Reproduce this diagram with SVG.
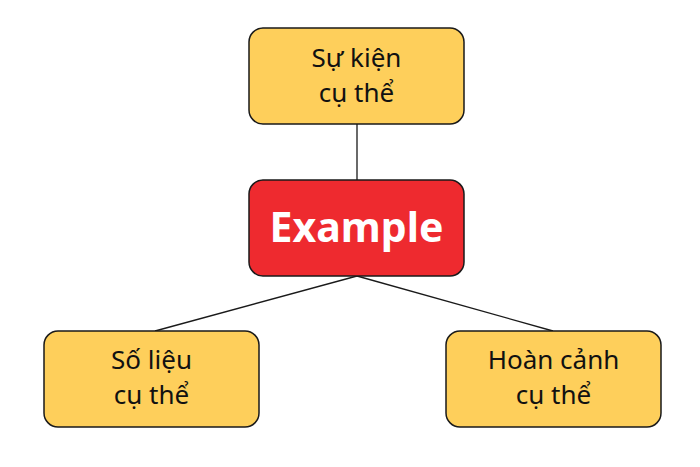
<svg xmlns="http://www.w3.org/2000/svg" width="700" height="467" viewBox="0 0 700 467">
<style>
.box{fill:#FECF5B;stroke:#1a1a1a;stroke-width:1.5}
.main{fill:#EE2A2F;stroke:#1a1a1a;stroke-width:1.5}
.t{font-family:"Noto Sans","Open Sans",sans-serif;font-size:26px;fill:#111;text-anchor:middle}
.m{font-family:"Noto Sans","Open Sans",sans-serif;font-size:41px;font-weight:bold;fill:#fff;text-anchor:middle}
.c{stroke:#1a1a1a;stroke-width:1.3;fill:none}
</style>
<rect width="700" height="467" fill="#fff"/>
<g id="connectors">
<line class="c" x1="357" y1="124" x2="357" y2="180"/>
<path class="c" d="M357 276 L155 331"/>
<path class="c" d="M357 276 L553 331"/>
</g>
<g id="top">
<rect class="box" x="249" y="28" width="215" height="96" rx="14"/>
<text class="t" x="356.5" y="67">Sự kiện</text>
<text class="t" x="356.5" y="102">cụ thể</text>
</g>
<g id="example">
<rect class="main" x="249" y="180" width="215" height="96" rx="14"/>
<text class="m" x="356.5" y="242">Example</text>
</g>
<g id="left">
<rect class="box" x="44" y="331" width="215" height="96" rx="14"/>
<text class="t" x="151.5" y="369">Số liệu</text>
<text class="t" x="151.5" y="404">cụ thể</text>
</g>
<g id="right">
<rect class="box" x="446" y="331" width="215" height="96" rx="14"/>
<text class="t" x="553.5" y="369">Hoàn cảnh</text>
<text class="t" x="553.5" y="404">cụ thể</text>
</g>
</svg>
